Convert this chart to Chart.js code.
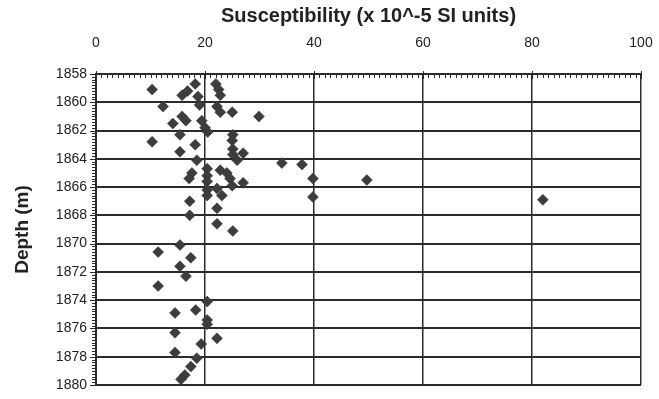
<!DOCTYPE html>
<html>
<head>
<meta charset="utf-8">
<script src="https://cdn.jsdelivr.net/npm/chart.js@4/dist/chart.umd.min.js"></script>
<style>
  html, body { margin: 0; padding: 0; background: #fff; }
  #wrap { width: 659px; height: 399px; }
</style>
</head>
<body>
<div id="wrap"><canvas id="chart" width="659" height="399"></canvas></div>
<script>
// Magnetic susceptibility log against depth
const susceptibility = [
  10.3, 18.2, 22.0, 22.5, 22.8, 15.8, 16.8, 18.7, 12.3, 19.0,
  22.2, 22.8, 25.0, 29.9, 15.8, 16.5, 14.1, 19.4, 20.0, 15.4,
  20.5, 25.1, 25.0, 10.3, 18.2, 15.4, 25.1, 27.0, 18.5, 25.1,
  25.9, 17.6, 17.1, 20.4, 20.4, 20.4, 20.4, 20.4, 22.8, 24.0,
  24.6, 25.0, 27.0, 22.2, 23.1, 17.2, 22.2, 17.2, 22.2, 25.1,
  15.4, 11.4, 17.4, 15.4, 16.5, 11.4, 20.4, 14.5, 18.3, 20.4,
  20.4, 14.5, 22.2, 19.3, 14.5, 18.5, 17.4, 16.3, 15.6, 34.1,
  37.8, 39.8, 49.7, 39.8, 82.0
];
const depth = [
  1859.1, 1858.7, 1858.7, 1859.1, 1859.5, 1859.5, 1859.2, 1859.6, 1860.3, 1860.2,
  1860.3, 1860.7, 1860.7, 1861.0, 1861.0, 1861.3, 1861.5, 1861.3, 1861.8, 1862.3,
  1862.1, 1862.3, 1862.7, 1862.8, 1863.0, 1863.5, 1863.3, 1863.6, 1864.1, 1863.7,
  1864.1, 1865.0, 1865.4, 1864.7, 1865.2, 1865.6, 1866.2, 1866.6, 1864.8, 1865.0,
  1865.4, 1865.9, 1865.7, 1866.1, 1866.6, 1867.0, 1867.5, 1868.0, 1868.6, 1869.1,
  1870.1, 1870.6, 1871.0, 1871.6, 1872.3, 1873.0, 1874.1, 1874.9, 1874.7, 1875.4,
  1875.7, 1876.3, 1876.7, 1877.1, 1877.7, 1878.1, 1878.7, 1879.3, 1879.6, 1864.3,
  1864.4, 1865.4, 1865.5, 1866.7, 1866.9
];

// Axis ranges and tick steps
const xRange = [0, 100];
const xStep = 20;
const yRange = [1858, 1880];
const yStep = 2;
const xMinorStep = 1;
const yMinorStep = 0.2;

const points = susceptibility.map((v, i) => ({ x: v, y: depth[i] }));

const ink = '#2b2b2b';
const labelFont = { family: "'Liberation Sans', Arial, Helvetica, sans-serif", size: 14 };
const xTitleFont = { family: "'Liberation Sans', Arial, Helvetica, sans-serif", size: 20, weight: 'bold' };
const yTitleFont = { family: "'Liberation Sans', Arial, Helvetica, sans-serif", size: 19, weight: 'bold' };

// Small tick marks along the top and left frame edges
const minorTicks = {
  id: 'minorTicks',
  afterDraw(chart) {
    const { ctx, chartArea: a, scales: { x, y } } = chart;
    ctx.save();
    ctx.strokeStyle = ink;
    ctx.lineWidth = 1;
    ctx.beginPath();
    for (let v = xRange[0]; v <= xRange[1] + 1e-9; v += xMinorStep) {
      const px = Math.round(x.getPixelForValue(v)) + 0.5;
      const major = Math.abs(v / xStep - Math.round(v / xStep)) < 1e-6;
      ctx.moveTo(px, a.top - (major ? 3 : 1));
      ctx.lineTo(px, a.top + (major ? 5 : 4));
    }
    for (let k = 0; k <= Math.round((yRange[1] - yRange[0]) / yMinorStep); k++) {
      const v = yRange[0] + k * yMinorStep;
      const py = Math.round(y.getPixelForValue(v)) + 0.5;
      const major = k % Math.round(yStep / yMinorStep) === 0;
      ctx.moveTo(a.left - (major ? 6 : 4), py);
      ctx.lineTo(a.left + 1, py);
    }
    ctx.stroke();
    ctx.restore();
  }
};

new Chart(document.getElementById('chart'), {
  type: 'scatter',
  data: {
    datasets: [{
      data: points,
      pointStyle: 'rectRot',
      pointRadius: 5.5,
      pointHoverRadius: 5.5,
      backgroundColor: '#3d3d3d',
      borderColor: '#333',
      borderWidth: 0.5,
      clip: false
    }]
  },
  options: {
    responsive: false,
    animation: false,
    events: [],
    layout: { padding: { top: 0, left: 0, right: 18, bottom: 14 } },
    plugins: { legend: { display: false }, tooltip: { enabled: false } },
    scales: {
      x: {
        type: 'linear',
        position: 'top',
        min: xRange[0],
        max: xRange[1],
        afterFit(scale) {
          scale.height = 74;
          scale.paddingLeft = 0;
          scale.paddingRight = 0;
        },
        ticks: { stepSize: xStep, color: '#222', font: labelFont, padding: 22, maxRotation: 0 },
        grid: { color: ink, lineWidth: 1.5, drawTicks: false },
        border: { color: ink, width: 2 },
        title: {
          display: true,
          text: 'Susceptibility (x 10^-5 SI units)',
          color: '#222',
          font: xTitleFont,
          padding: { top: 4, bottom: 0 }
        }
      },
      y: {
        type: 'linear',
        reverse: true,
        min: yRange[0],
        max: yRange[1],
        afterFit(scale) {
          scale.width = 96;
          scale.paddingTop = 0;
          scale.paddingBottom = 0;
        },
        ticks: { stepSize: yStep, color: '#222', font: labelFont, padding: 9, callback: (v) => String(v) },
        grid: { color: ink, lineWidth: 2, drawTicks: false },
        border: { color: ink, width: 2 },
        title: {
          display: true,
          text: 'Depth (m)',
          color: '#222',
          font: yTitleFont,
          padding: { top: 11, bottom: 0 }
        }
      }
    }
  },
  plugins: [minorTicks]
});
</script>
</body>
</html>
